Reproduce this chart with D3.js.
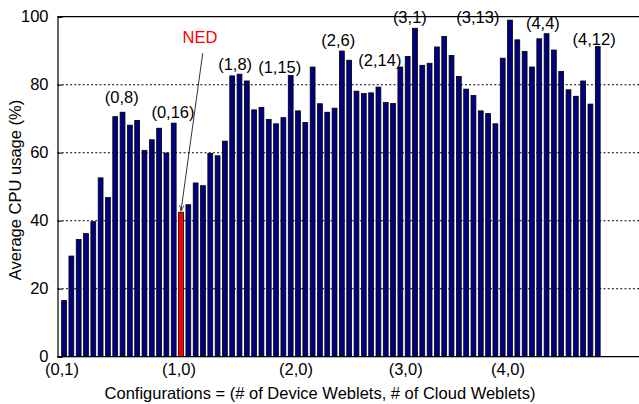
<!DOCTYPE html>
<html>
<head>
<meta charset="utf-8">
<script src="https://cdn.jsdelivr.net/npm/d3@7"></script>
<style>
  body { margin: 0; background: #fff; }
  svg { display: block; font-family: "Liberation Sans", Arial, Helvetica, sans-serif; }
</style>
</head>
<body>
<svg id="chart" width="639" height="404"></svg>
<script>
// configurations: (# device weblets, # cloud weblets)
var deviceCounts = [0, 1, 2, 3, 4];
var firstCloud   = [1, 0, 0, 0, 0];
var lastCloud    = [16, 15, 14, 13, 12];

var cpuUsage = [
  16.5, 29.6, 34.5, 36.2, 39.7, 52.6, 46.8, 70.6, 71.9, 68.1, 69.5, 60.7, 63.8, 67.2, 59.9, 68.7,
  42.5, 44.7, 51.1, 50.3, 59.8, 59.1, 63.4, 82.6, 83.1, 81.1, 72.6, 73.3, 69.8, 68.5, 70.3, 82.7,
  72.3, 68.9, 85.2, 74.4, 71.9, 73.1, 89.9, 87.2, 78.1, 77.4, 77.6, 79.3, 74.8, 74.5, 85.2,
  88.3, 96.6, 85.7, 86.3, 91.1, 94.2, 88.6, 82.4, 78.7, 76.8, 72.3, 71.5, 68.5,
  87.8, 99.0, 93.2, 89.8, 85.2, 93.5, 95.0, 90.2, 83.9, 78.5, 76.6, 81.1, 74.3, 91.2
];

var yTicks = [0, 20, 40, 60, 80, 100];
var xTickLabels = ["(0,1)", "(1,0)", "(2,0)", "(3,0)", "(4,0)"];

// peak annotations (label, position in bar units, height in %)
var annoText = ["(0,8)", "(0,16)", "(1,8)", "(1,15)", "(2,6)", "(2,14)", "(3,1)", "(3,13)", "(4,4)", "(4,12)"];
var annoPos  = [7.9, 14.9, 23.4, 29.5, 37.5, 43.2, 47.3, 56.6, 65.5, 72.5];
var annoY    = [74.6, 70.2, 84.3, 83.4, 91.4, 85.5, 98.1, 98.1, 96.4, 91.7];

var highlight = "(1,0)";

var categories = [];
deviceCounts.forEach(function(d, i) {
  for (var c = firstCloud[i]; c <= lastCloud[i]; c++) categories.push("(" + d + "," + c + ")");
});
var data = categories.map(function(c, i) { return {config: c, value: cpuUsage[i]}; });

var svg = d3.select("#chart");
var plotL = 57.5, plotT = 16.7, plotB = 356.7, plotR = 645;
var fs = 16.5;

var x = d3.scaleBand().domain(categories).range([60.4, 601.4]).paddingInner(0.34).paddingOuter(0.17);
var y = d3.scaleLinear().domain([0, 100]).range([plotB, plotT]);
var xi = d3.scaleLinear().domain([0, categories.length - 1])
    .range([x(categories[0]) + x.bandwidth() / 2, x(categories[categories.length - 1]) + x.bandwidth() / 2]);

// grid
svg.append("g").selectAll("line")
  .data(yTicks.filter(function(t) { return t > 0 && t < 100; }))
  .enter().append("line")
    .attr("x1", plotL).attr("x2", plotR)
    .attr("y1", function(d) { return y(d); }).attr("y2", function(d) { return y(d); })
    .attr("stroke", "#000").attr("stroke-width", 1.1).attr("stroke-dasharray", "2,2.2");

// bars
svg.append("g").selectAll("rect")
  .data(data)
  .enter().append("rect")
    .attr("x", function(d) { return x(d.config); })
    .attr("y", function(d) { return y(d.value); })
    .attr("width", x.bandwidth())
    .attr("height", function(d) { return plotB - y(d.value); })
    .attr("fill", function(d) { return d.config === highlight ? "#ff0000" : "#000080"; })
    .attr("stroke", "#000").attr("stroke-width", 0.8);

// y axis
var yAxis = svg.append("g")
    .attr("transform", "translate(" + plotL + ",0)")
    .call(d3.axisLeft(y).tickValues(yTicks).tickSize(-5).tickPadding(9));
yAxis.select(".domain").attr("stroke", "#000").attr("stroke-width", 1.2);
yAxis.selectAll(".tick line").attr("stroke", "#000");
yAxis.selectAll("text").attr("font-size", fs).attr("fill", "#000")
    .attr("font-family", "Liberation Sans, Arial, sans-serif");

// frame top and bottom
svg.append("line").attr("x1", plotL).attr("x2", plotR).attr("y1", plotT).attr("y2", plotT)
    .attr("stroke", "#000").attr("stroke-width", 1.2);
svg.append("line").attr("x1", plotL).attr("x2", plotR).attr("y1", plotB).attr("y2", plotB)
    .attr("stroke", "#000").attr("stroke-width", 1.2);

// x tick labels
var xAxis = svg.append("g")
    .attr("transform", "translate(-2," + plotB + ")")
    .call(d3.axisBottom(x).tickValues(xTickLabels).tickSize(0).tickPadding(7));
xAxis.select(".domain").remove();
xAxis.selectAll("text").attr("font-size", fs).attr("fill", "#000")
    .attr("font-family", "Liberation Sans, Arial, sans-serif");

// peak labels
svg.append("g").selectAll("text")
  .data(annoText)
  .enter().append("text")
    .attr("x", function(d, i) { return xi(annoPos[i]); })
    .attr("y", function(d, i) { return y(annoY[i]); })
    .attr("text-anchor", "middle")
    .attr("font-size", fs)
    .text(function(d) { return d; });

// NED callout
svg.append("defs").append("marker")
    .attr("id", "arrow").attr("viewBox", "0 0 10 10").attr("refX", 10).attr("refY", 5)
    .attr("markerWidth", 7).attr("markerHeight", 7).attr("orient", "auto")
  .append("path").attr("d", "M0,1 L10,5 L0,9").attr("fill", "none").attr("stroke", "#000").attr("stroke-width", 1.2);

svg.append("text")
    .attr("x", xi(18.6)).attr("y", y(92.3))
    .attr("text-anchor", "middle").attr("font-size", fs).attr("fill", "#ff0000")
    .text("NED");

svg.append("line")
    .attr("x1", xi(18.97)).attr("y1", y(89.3))
    .attr("x2", xi(16)).attr("y2", y(cpuUsage[categories.indexOf(highlight)]) - 1.5)
    .attr("stroke", "#000").attr("stroke-width", 0.8).attr("marker-end", "url(#arrow)");

// axis titles
svg.append("text")
    .attr("x", 320).attr("y", 399)
    .attr("text-anchor", "middle").attr("font-size", fs)
    .text("Configurations = (# of Device Weblets, # of Cloud Weblets)");

svg.append("text")
    .attr("transform", "translate(21,190) rotate(-90)")
    .attr("text-anchor", "middle").attr("font-size", fs)
    .text("Average CPU usage (%)");
</script>
</body>
</html>
